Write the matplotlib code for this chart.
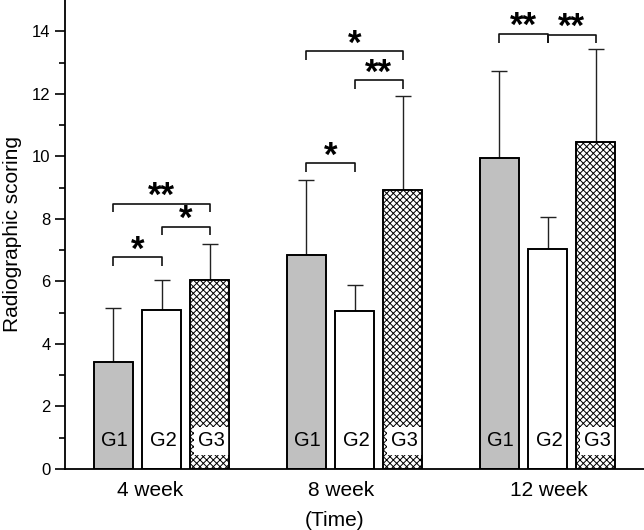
import numpy as np
import matplotlib

matplotlib.use("Agg")
import matplotlib.pyplot as plt

plt.rcParams["font.family"] = ["Liberation Sans", "DejaVu Sans"]
plt.rcParams["hatch.linewidth"] = 0.7

# data
weeks = ["4 week", "8 week", "12 week"]
groups = ["G1", "G2", "G3"]
means = {
    "G1": [3.42, 6.85, 9.95],
    "G2": [5.08, 5.05, 7.05],
    "G3": [6.03, 8.93, 10.45],
}
sd_up = {
    "G1": [1.72, 2.40, 2.78],
    "G2": [0.95, 0.85, 1.00],
    "G3": [1.17, 3.00, 2.98],
}
# significance brackets: (week index, bar a, bar b, height, label)
brackets = [
    (0, 0, 1, 6.77, "*"),
    (0, 1, 2, 7.75, "*"),
    (0, 0, 2, 8.49, "**"),
    (1, 0, 1, 9.79, "*"),
    (1, 1, 2, 12.43, "**"),
    (1, 0, 2, 13.36, "*"),
    (2, 0, 1, 13.92, "**"),
    (2, 1, 2, 13.89, "**"),
]

# styling
PITCH = 0.25
WIDTH = 0.2
styles = {
    "G1": dict(color="#c0c0c0", hatch=None),
    "G2": dict(color="white", hatch=None),
    "G3": dict(color="white", hatch="xxxxx"),
}
label_shift = [-0.06, -0.07, 0.005]

fig = plt.figure(figsize=(6.44, 5.30), dpi=100)
ax = fig.add_axes([65 / 644, 61 / 530, 579 / 644, 469 / 530])

x = np.arange(len(weeks))
for k, g in enumerate(groups):
    xs = x + (k - 1) * PITCH
    ax.bar(xs, means[g], WIDTH, color=styles[g]["color"], edgecolor="black",
           linewidth=1.2, hatch=styles[g]["hatch"], zorder=2)
    ax.errorbar(xs, means[g], yerr=[np.zeros(len(xs)), sd_up[g]], fmt="none",
                ecolor="#222222", elinewidth=1.0, capsize=5.5, capthick=1.0,
                zorder=1)
    for xi in xs:
        box = None
        if g == "G3":
            box = dict(facecolor="white", edgecolor="none", pad=3)
        ax.text(xi + 0.008, 0.9, g, ha="center", va="center", fontsize=14.5,
                bbox=box, zorder=3)
    # keep the bar outlines above the label boxes
    ax.bar(xs, means[g], WIDTH, fill=False, edgecolor="black", linewidth=1.2,
           zorder=4)

tip = 0.28
for w, a, b, h, lab in brackets:
    xa = x[w] + (a - 1) * PITCH
    xb = x[w] + (b - 1) * PITCH
    ax.plot([xa, xa, xb, xb], [h - tip, h, h, h - tip], color="#111111",
            lw=1.2, solid_capstyle="butt")
    ax.text((xa + xb) / 2, h - 0.08, lab, ha="center", va="baseline",
            fontsize=25, fontweight="bold")

ax.set_xlim(-0.5, 2.5)
ax.set_ylim(0, 15)
ax.set_yticks(np.arange(0, 15, 2))
ax.set_yticks(np.arange(1, 15, 2), minor=True)
ax.tick_params(axis="y", which="major", length=7, width=1.2, labelsize=12)
ax.tick_params(axis="y", which="minor", length=4, width=1.2)
ax.set_xticks(x + np.array(label_shift))
ax.set_xticklabels(weeks, fontsize=15)
ax.tick_params(axis="x", length=0, pad=9)
ax.spines["top"].set_visible(False)
ax.spines["right"].set_visible(False)
ax.spines["left"].set_linewidth(1.3)
ax.spines["bottom"].set_linewidth(1.3)
ax.spines["bottom"].set_zorder(5)
ax.set_ylabel("Radiographic scoring", fontsize=15, labelpad=7)
ax.set_xlabel("(Time)", fontsize=15)
ax.xaxis.set_label_coords(0.466, -0.09)

fig.savefig("out.png", dpi=100)
